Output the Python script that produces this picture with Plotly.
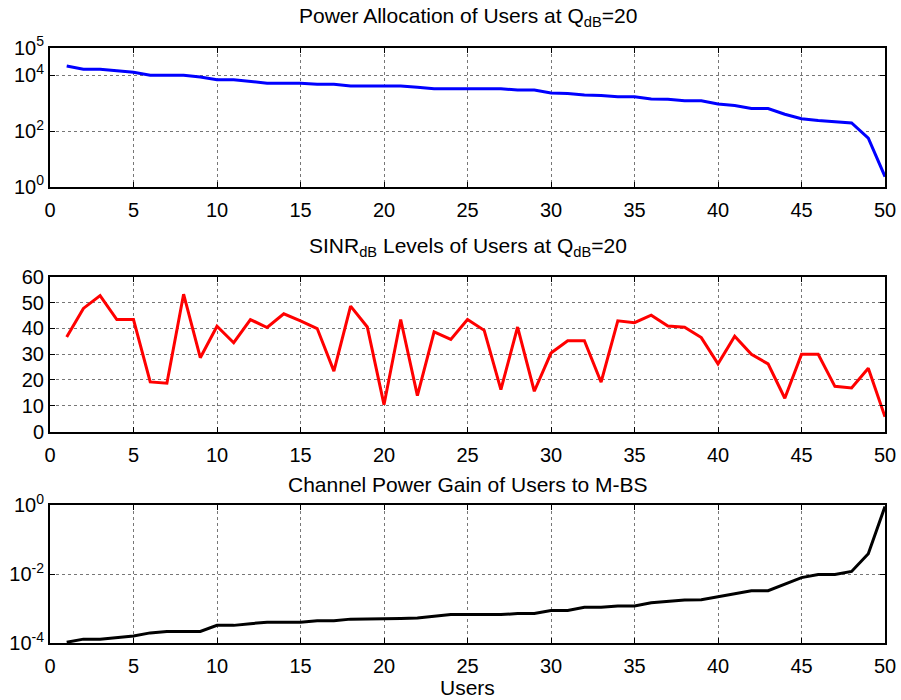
import plotly.graph_objects as go

users = list(range(1, 51))

power = [21600, 16600, 16600, 14800, 12900, 10000, 10000, 10000, 8700, 6900,
         6900, 6000, 5250, 5250, 5250, 4800, 4800, 4170, 4170, 4170,
         4170, 3700, 3300, 3300, 3300, 3300, 3300, 2950, 2950, 2340,
         2240, 1950, 1900, 1700, 1700, 1410, 1380, 1230, 1230, 930,
         830, 645, 645, 400, 275, 240, 214, 195, 56, 2.3]

sinr = [36.6, 47.7, 52.7, 43.4, 43.4, 19.2, 18.7, 53.2, 28.6, 40.8,
        34.4, 43.4, 40.3, 45.6, 42.9, 39.9, 23.4, 48.6, 40.5, 10.4,
        43.4, 13.9, 38.6, 35.7, 43.4, 39.2, 16.2, 40.5, 15.6, 30.4,
        35.2, 35.2, 19.1, 42.9, 42.2, 45.1, 40.9, 40.4, 36.4, 26.2,
        36.9, 29.9, 26.2, 12.9, 29.9, 29.9, 17.5, 16.9, 24.5, 5.7]

gain = [1.07e-4, 1.32e-4, 1.32e-4, 1.45e-4, 1.62e-4, 2.0e-4, 2.19e-4, 2.19e-4, 2.19e-4, 3.3e-4,
        3.3e-4, 3.7e-4, 4.07e-4, 4.07e-4, 4.07e-4, 4.47e-4, 4.47e-4, 5.0e-4, 5.0e-4, 5.0e-4,
        5.25e-4, 5.37e-4, 6.0e-4, 6.76e-4, 6.76e-4, 6.76e-4, 6.76e-4, 7.24e-4, 7.24e-4, 8.9e-4,
        8.9e-4, 1.1e-3, 1.1e-3, 1.2e-3, 1.2e-3, 1.48e-3, 1.62e-3, 1.78e-3, 1.82e-3, 2.24e-3,
        2.69e-3, 3.31e-3, 3.31e-3, 5.25e-3, 7.94e-3, 9.77e-3, 9.77e-3, 1.2e-2, 3.9e-2, 0.91]

x_ticks = [0, 5, 10, 15, 20, 25, 30, 35, 40, 45, 50]
power_ticks = [1, 100, 1e4, 1e5]
power_ticktext = ["10<sup>0</sup>", "10<sup>2</sup>", "10<sup>4</sup>", "10<sup>5</sup>"]
sinr_ticks = [0, 10, 20, 30, 40, 50, 60]
gain_ticks = [1e-4, 1e-2, 1]
gain_ticktext = ["10<sup>-4</sup>", "10<sup>-2</sup>", "10<sup>0</sup>"]

titles = ["Power Allocation of Users at Q<sub>dB</sub>=20",
          "SINR<sub>dB</sub> Levels of Users at Q<sub>dB</sub>=20",
          "Channel Power Gain of Users to M-BS"]

W, H = 901, 700
FONT = dict(family="Liberation Sans, Arial, sans-serif", size=20, color="black")
TFONT = dict(family="Liberation Sans, Arial, sans-serif", size=21, color="black")

fig = go.Figure()
fig.add_trace(go.Scatter(x=users, y=power, mode="lines", line=dict(color="#0000ff", width=3),
                         xaxis="x", yaxis="y", showlegend=False))
fig.add_trace(go.Scatter(x=users, y=sinr, mode="lines", line=dict(color="#ff0000", width=3),
                         xaxis="x2", yaxis="y2", showlegend=False))
fig.add_trace(go.Scatter(x=users, y=gain, mode="lines", line=dict(color="#000000", width=3),
                         xaxis="x3", yaxis="y3", showlegend=False))

xdom = [50 / W, 885 / W]
def ydom(top, bottom):
    return [1 - bottom / H, 1 - top / H]

common_x = dict(range=[0, 50], tickvals=x_ticks, showline=True, linecolor="black", linewidth=2,
                mirror="allticks", ticks="inside", ticklen=5, tickcolor="black",
                showgrid=True, gridcolor="#777777", griddash="dot", gridwidth=1,
                zeroline=False, domain=xdom, tickfont=FONT, automargin=False,
                ticklabelstandoff=4)
common_y = dict(showline=True, linecolor="black", linewidth=2, mirror="allticks",
                ticks="inside", ticklen=5, tickcolor="black",
                showgrid=True, gridcolor="#777777", griddash="dot", gridwidth=1,
                zeroline=False, tickfont=FONT, automargin=False)

fig.update_layout(
    width=W, height=H,
    margin=dict(l=0, r=0, t=0, b=0, pad=0, autoexpand=False),
    paper_bgcolor="white", plot_bgcolor="white",
    font=FONT,
    xaxis=dict(common_x, anchor="y"),
    yaxis=dict(common_y, type="log", range=[0, 5], tickvals=power_ticks, ticktext=power_ticktext,
               domain=ydom(47.5, 186.7), anchor="x"),
    xaxis2=dict(common_x, anchor="y2"),
    yaxis2=dict(common_y, range=[0, 60], tickvals=sinr_ticks, domain=ydom(276.7, 431.5), anchor="x2"),
    xaxis3=dict(common_x, anchor="y3"),
    yaxis3=dict(common_y, type="log", range=[-4, 0], tickvals=gain_ticks, ticktext=gain_ticktext,
                domain=ydom(505, 643.3), anchor="x3"),
)

xc = (xdom[0] + xdom[1]) / 2
for t, ypx in zip(titles, [17, 247, 484]):
    fig.add_annotation(text=t, x=xc, y=1 - ypx / H, xref="paper", yref="paper",
                       xanchor="center", yanchor="middle", showarrow=False, font=TFONT)
fig.add_annotation(text="Users", x=xc, y=1 - 687 / H, xref="paper", yref="paper",
                   xanchor="center", yanchor="middle", showarrow=False, font=TFONT)

fig.write_html("out.html")
